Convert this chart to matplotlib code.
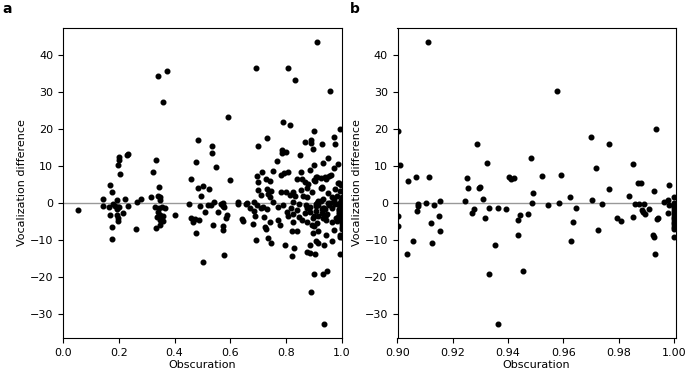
import matplotlib
matplotlib.use('Agg')
from matplotlib import pyplot as plt

# Obscuration below 0.9 (only visible in panel a)
obs_low = [
    0.052, 0.142, 0.142, 0.169, 0.174, 0.166, 0.169, 0.174, 0.174, 0.178,
    0.187, 0.193, 0.197, 0.192, 0.202, 0.195, 0.198, 0.198, 0.216, 0.221,
    0.234, 0.199, 0.199, 0.196, 0.205, 0.229, 0.234, 0.262, 0.265, 0.280,
    0.317, 0.321, 0.335, 0.343, 0.341, 0.348, 0.349, 0.331, 0.343, 0.356,
    0.365, 0.341, 0.349, 0.357, 0.338, 0.349, 0.359, 0.346, 0.335, 0.358,
    0.341, 0.372, 0.403, 0.450, 0.457, 0.478, 0.484, 0.485, 0.494, 0.503,
    0.525, 0.490, 0.457, 0.466, 0.474, 0.486, 0.477, 0.508, 0.501, 0.534,
    0.534, 0.550, 0.521, 0.532, 0.540, 0.556, 0.568, 0.572, 0.578, 0.536,
    0.572, 0.574, 0.588, 0.586, 0.577, 0.592, 0.600,
    0.693, 0.808, 0.832, 0.788, 0.812, 0.730, 0.698, 0.784, 0.784, 0.799,
    0.850, 0.869, 0.890, 0.890, 0.896, 0.766, 0.714, 0.696, 0.754, 0.793,
    0.807, 0.783, 0.853, 0.886, 0.727, 0.700, 0.742, 0.838, 0.856, 0.868,
    0.878, 0.898, 0.698, 0.730, 0.747, 0.781, 0.800, 0.824, 0.853, 0.876,
    0.708, 0.734, 0.742, 0.812, 0.833, 0.862, 0.892, 0.874, 0.626, 0.628,
    0.656, 0.686, 0.694, 0.718, 0.754, 0.790, 0.826, 0.845, 0.872, 0.886,
    0.672, 0.685, 0.708, 0.730, 0.772, 0.802, 0.818, 0.838, 0.876, 0.886,
    0.640, 0.644, 0.688, 0.720, 0.742, 0.770, 0.805, 0.823, 0.845, 0.868,
    0.896, 0.682, 0.724, 0.778, 0.824, 0.855, 0.874, 0.893, 0.728, 0.820,
    0.838, 0.896, 0.692, 0.736, 0.745, 0.796, 0.829, 0.886, 0.822, 0.876,
    0.886, 0.898, 0.890, 0.658, 0.574,
]
diff_low = [
    -1.8, 1.1, -0.7, 4.9, 2.9, -1.1, -3.2, -6.5, -9.7, -0.2,
    -0.7, 0.8, -1.0, -1.5, -1.1, -3.2, -4.1, -4.7, -2.7, 1.2,
    -0.8, 12.4, 11.7, 10.3, 8.0, 13.1, 13.2, -7.0, 0.3, 1.1,
    1.8, 8.5, 11.7, 4.4, 2.0, 1.8, 0.9, -0.9, -1.4, -0.9,
    -1.2, -2.5, -3.2, -3.4, -3.8, -4.5, -4.7, -5.8, -6.7, 27.3,
    34.4, 35.8, -3.2, -0.3, 6.5, 11.1, 17.1, 4.2, 2.0, 4.6,
    3.8, -0.7, -4.0, -5.1, -4.3, -4.6, -8.1, -2.5, -15.9, 15.4,
    13.6, 9.8, -0.5, -0.5, 0.4, -2.4, -0.2, -0.7, -0.9, -5.9,
    -6.1, -7.2, -3.2, -4.0, -14.1, 23.3, 6.3,
    36.4, 36.4, 33.2, 22.0, 21.1, 17.5, 15.4, 14.4, 13.5, 13.8,
    13.0, 16.6, 17.0, 16.2, 14.6, 11.5, 8.3, 7.4, 8.6, 8.1,
    8.4, 7.6, 8.4, 9.0, 6.5, 5.8, 6.1, 6.5, 6.5, 5.8,
    5.2, 6.3, 3.6, 3.8, 3.4, 2.9, 3.1, 3.1, 3.6, 4.2,
    2.2, 2.5, 1.8, 2.2, 2.0, 2.0, 3.1, 1.6, 0.2, -0.2,
    -0.3, 0.2, -0.5, -0.9, 0.4, -0.5, 0.2, -0.2, -0.5, -0.9,
    -1.4, -2.0, -1.4, -1.6, -1.1, -2.3, -1.4, -1.8, -1.4, -2.3,
    -4.3, -4.7, -3.4, -3.8, -5.2, -4.5, -3.4, -3.0, -3.6, -2.7,
    -4.1, -5.6, -6.3, -5.8, -5.0, -4.5, -5.2, -5.8, -7.0, -7.4,
    -7.4, -8.1, -9.9, -9.4, -10.8, -11.3, -12.1, -11.2, -14.3, -13.2,
    -13.5, -19.0, -23.9, 0.0, 0.0,
]

# Obscuration from 0.9 up (shown in both panels)
obs_high = [
    0.9003, 0.9009, 0.9039, 0.9066, 0.9113, 0.9001, 0.9003, 0.9057, 0.9033, 0.9075,
    0.9073, 0.9070, 0.9103, 0.9131, 0.9154, 0.9151, 0.9121, 0.9153, 0.9126, 0.9109,
    0.9243, 0.9252, 0.9255, 0.9287, 0.9322, 0.9293, 0.9300, 0.9308, 0.9278, 0.9271,
    0.9330, 0.9315, 0.9351, 0.9330, 0.9362, 0.9393, 0.9404, 0.9411, 0.9420, 0.9484,
    0.9489, 0.9487, 0.9443, 0.9434, 0.9472, 0.9434, 0.9452, 0.9362, 0.9522, 0.9591,
    0.9543, 0.9585, 0.9578, 0.9624, 0.9647, 0.9635, 0.9628, 0.9699, 0.9765, 0.9717,
    0.9703, 0.9740, 0.9764, 0.9726, 0.9795, 0.9808, 0.9850, 0.9851, 0.9837, 0.9871,
    0.9882, 0.9858, 0.9873, 0.9891, 0.9884, 0.9888, 0.9893, 0.9909, 0.9927, 0.9934,
    0.9937, 0.9941, 0.9923, 0.9928, 0.9932, 0.9981, 0.9978, 0.9964, 0.9981, 0.9979,
    1.0, 1.0, 1.0, 1.0, 1.0, 1.0, 1.0, 1.0, 1.0, 1.0,
    1.0, 1.0, 1.0,
]
diff_high = [
    19.6, 10.3, 6.0, 7.2, 7.2, -3.4, -6.1, -10.3, -13.7, -0.2,
    -0.8, -2.1, 0.0, -0.6, 0.7, -3.5, -5.4, -7.5, -10.7, 43.4,
    0.7, 6.8, 4.0, 15.9, 10.9, 4.0, 4.4, 1.1, -1.5, -2.7,
    -1.2, -4.1, -11.2, -19.0, -1.3, -1.5, 7.2, 6.6, 6.9, 12.3,
    2.8, 0.0, -3.2, -4.6, -2.9, -8.7, -18.4, -32.6, 7.4, 7.5,
    -0.6, 0.0, 30.4, 1.6, -1.2, -5.0, -10.1, 17.8, 16.1, 9.4,
    0.8, -0.3, 3.8, -7.3, -4.0, -4.7, -3.8, 10.6, 2.0, 5.4,
    5.5, -0.1, -0.1, -0.3, -1.8, -2.3, -2.9, -1.5, 3.3, 19.9,
    -4.4, -4.1, -8.6, -9.2, -13.7, 4.9, 0.9, 0.3, -0.5, -2.6,
    1.7, 0.0, -0.7, -1.4, -2.2, -2.9, -3.6, -4.3, -5.0, -5.7,
    -6.5, -7.0, -9.0,
]

obscuration = obs_low + obs_high
difference = diff_low + diff_high

plt.rcParams['font.size'] = 8

fig = plt.figure(figsize=(6.85, 3.71), dpi=100)
ax_a = fig.add_axes([63 / 685, 33 / 371, 279 / 685, 310 / 371])
ax_b = fig.add_axes([397.5 / 685, 33 / 371, 278 / 685, 310 / 371])

for ax in (ax_a, ax_b):
    ax.axhline(0, color='#999999', linewidth=1, zorder=1)
    ax.scatter(obscuration, difference, s=11, color='black', zorder=2)
    ax.set_xlabel('Obscuration', labelpad=1.5)
    ax.set_ylabel('Vocalization difference', labelpad=2)
    ax.set_ylim(-36.4, 47.3)

ax_a.set_xlim(0, 1)
ax_b.set_xlim(0.9, 1.0005)
ax_b.set_xticks([0.90, 0.92, 0.94, 0.96, 0.98, 1.00])
ax_b.set_xticklabels(['0.90', '0.92', '0.94', '0.96', '0.98', '1.00'])

fig.text(0.004, 0.965, 'a', fontsize=10, fontweight='bold')
fig.text(0.511, 0.965, 'b', fontsize=10, fontweight='bold')

fig.savefig('out.png', dpi=100)
